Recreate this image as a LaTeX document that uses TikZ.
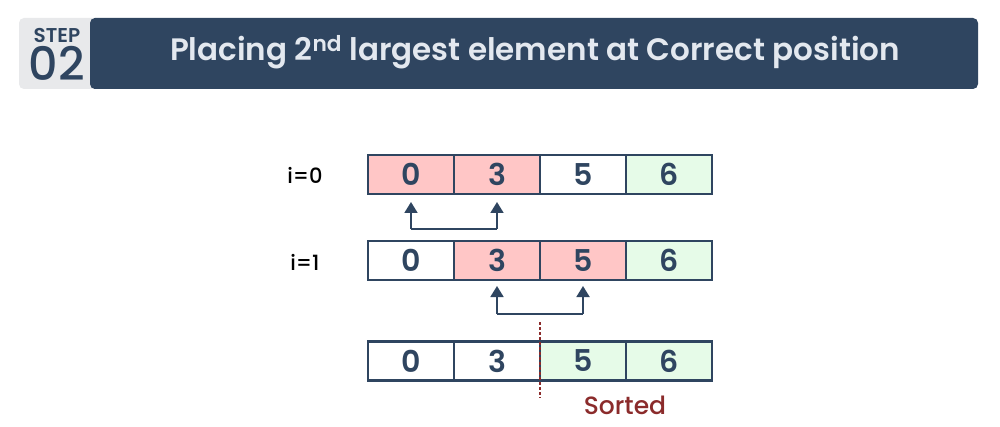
\documentclass[tikz,border=0pt]{standalone}
\usepackage{fontspec}
\setmainfont{Poppins}[BoldFont={* SemiBold}]
\newfontfamily\medf{Poppins}[UprightFont={* Medium}]
\usetikzlibrary{arrows.meta}
\definecolor{navy}{HTML}{2F4560}
\definecolor{pinkc}{HTML}{FFC6C6}
\definecolor{greenc}{HTML}{E6FBE8}
\definecolor{grayc}{HTML}{E8E9EB}
\definecolor{titlec}{HTML}{E3E8EF}
\definecolor{sortc}{HTML}{8B2B2B}
\tikzset{
  cell/.style={draw=navy, line width=2.4pt, minimum width=86pt, minimum height=39pt, inner sep=0pt, font=\fontsize{30}{30}\selectfont\bfseries, text=navy},
  lbl/.style={font=\fontsize{21}{21}\selectfont\medf, text=black},
  swap/.style={draw=navy, line width=1.8pt, -{Triangle[length=11pt,width=13pt]}}
}
\begin{document}
\begin{tikzpicture}[x=1pt,y=-1pt]
\useasboundingbox[fill=white] (0,0) rectangle (1000,427);
% header
\fill[grayc, rounded corners=5pt] (19,18) rectangle (100,89);
\fill[navy, rounded corners=5pt] (90,18) rectangle (978,89);
\fill[navy] (94,18) rectangle (110,89);
\node[text=navy, font=\fontsize{20}{20}\selectfont\bfseries] (step) at (57,35) {STEP};
\node[text=navy, font=\fontsize{46}{46}\selectfont\medf] (num) at (57,63) {02};
\node[text=titlec, font=\fontsize{31}{31}\selectfont\bfseries] (title) at (535,52) {Placing 2\textsuperscript{nd} largest element at Correct position};
% rows
\foreach \r/\y/\fa/\fb/\fc/\fd in {a/174.5/pinkc/pinkc/white/greenc, b/260.5/white/pinkc/pinkc/greenc, c/361/white/white/greenc/greenc}{
  \node[cell, fill=\fa] (\r0) at (411,\y) {0};
  \node[cell, fill=\fb] (\r1) at (497,\y) {3};
  \node[cell, fill=\fc] (\r2) at (583,\y) {5};
  \node[cell, fill=\fd] (\r3) at (669,\y) {6};
}
\node[lbl] (i0) at (305,175) {i=0};
\node[lbl] (i1) at (305,262) {i=1};
% swap arrows
\coordinate (p1) at (a0.south |- 0,229);
\coordinate (p2) at (a1.south |- 0,229);
\coordinate (t1) at (a0.south |- 0,202);
\coordinate (t2) at (a1.south |- 0,202);
\draw[swap] (p1) -- (t1);
\draw[swap] (p2) -- (t2);
\draw[draw=navy, line width=1.8pt] (p1) -- (p2);
\coordinate (q1) at (b1.south |- 0,314);
\coordinate (q2) at (b2.south |- 0,314);
\coordinate (u1) at (b1.south |- 0,286);
\coordinate (u2) at (b2.south |- 0,286);
\draw[swap] (q1) -- (u1);
\draw[swap] (q2) -- (u2);
\draw[draw=navy, line width=1.8pt] (q1) -- (q2);
% sorted line
\coordinate (d1) at (540,322);
\coordinate (d2) at (540,398);
\draw[sortc, line width=1.2pt, dash pattern=on 3pt off 2pt] (d1) -- (d2);
\node[text=sortc, font=\fontsize{25}{25}\selectfont\medf] (sorted) at (625,405) {Sorted};
\end{tikzpicture}
\end{document}
